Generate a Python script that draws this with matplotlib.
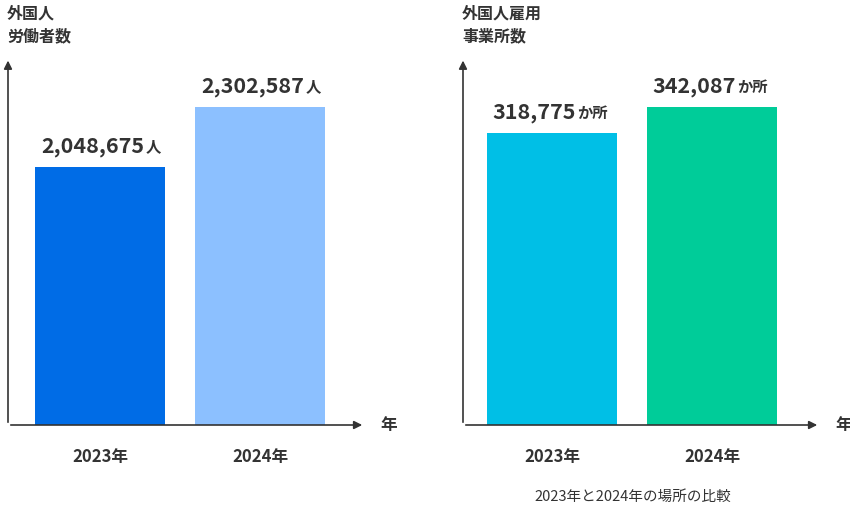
import matplotlib
matplotlib.use('Agg')
import matplotlib.pyplot as plt

plt.rcParams['font.family'] = ['Noto Sans CJK JP', 'DejaVu Sans']

# data
years = ['2023年', '2024年']
workers = [2048675, 2302587]
offices = [318775, 342087]
worker_labels = ['2,048,675', '2,302,587']
office_labels = ['318,775', '342,087']

fig = plt.figure(figsize=(8.5, 5.15), dpi=100)
W, H = 850, 515


def make_axes(left_px, title, vals, labels, unit, colors, ylim, centers, unit_off):
    ax = fig.add_axes([left_px / W, 1 - 425 / H, 357 / W, 360 / H])
    ax.set_xlim(0, 357)
    ax.set_ylim(*ylim)
    ax.bar(centers, vals, width=130, color=colors)
    for s in ax.spines.values():
        s.set_visible(False)
    ax.set_xticks([])
    ax.set_yticks([])
    # axis arrows
    ax.annotate('', xy=(0, 1.02), xytext=(0, 0), xycoords='axes fraction',
                arrowprops=dict(arrowstyle='-|>', color='#333333', lw=1.2, mutation_scale=12),
                annotation_clip=False)
    ax.annotate('', xy=(1.0, 0), xytext=(0, 0), xycoords='axes fraction',
                arrowprops=dict(arrowstyle='-|>', color='#333333', lw=1.2, mutation_scale=12),
                annotation_clip=False)
    ax.annotate('年', (1.0, 0), xycoords='axes fraction', xytext=(11, 0),
                textcoords='offset points', ha='left', va='center',
                fontsize=12, fontweight='bold', color='#333333', annotation_clip=False)
    for c, y in zip(centers, years):
        ax.annotate(y, (c, ylim[0]), xytext=(0, -23), textcoords='offset points',
                    ha='center', va='center', fontsize=12, fontweight='bold',
                    color='#333333', annotation_clip=False)
    for c, v, lab in zip(centers, vals, labels):
        ax.annotate(lab, (c + unit_off, v), xytext=(0, 7), textcoords='offset points',
                    ha='right', va='bottom', fontsize=15.5, fontweight='bold', color='#333333')
        ax.annotate(unit, (c + unit_off, v), xytext=(1, 9), textcoords='offset points',
                    ha='left', va='bottom', fontsize=11, fontweight='bold', color='#333333')
    fig.text(left_px / W - 0.001, 1 - 6 / H, title, ha='left', va='top', fontsize=11.5,
             fontweight='bold', color='#333333', linespacing=1.45)
    return ax


make_axes(8, '外国人\n労働者数', workers, worker_labels, '人',
          ['#006CE6', '#8CC0FF'], (956900, 2480000), [92, 252], 44)
make_axes(463, '外国人雇用\n事業所数', offices, office_labels, 'か所',
          ['#00BFE6', '#00CC99'], (56970, 379770), [89, 249], 24)

fig.text(633 / W, 1 - 497 / H, '2023年と2024年の場所の比較', ha='center', va='center',
         fontsize=10.5, color='#333333')

fig.savefig('out.png', dpi=100)
